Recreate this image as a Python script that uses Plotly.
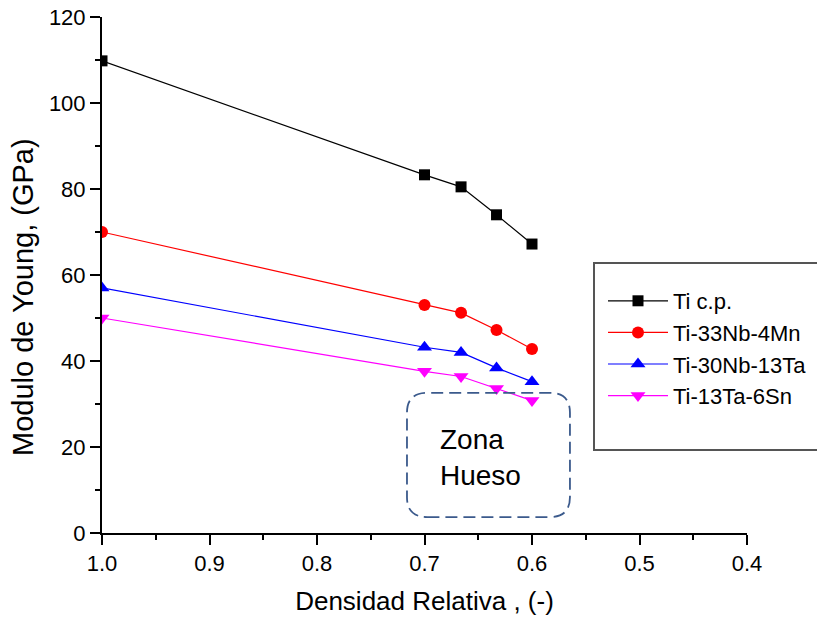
import plotly.graph_objects as go

densidad = [1.0, 0.7, 0.666, 0.633, 0.6]
ti_cp = [109.8, 83.3, 80.5, 74.0, 67.2]
ti_33nb_4mn = [70.0, 53.0, 51.2, 47.2, 42.8]
ti_30nb_13ta = [57.0, 43.2, 42.0, 38.4, 35.2]
ti_13ta_6sn = [50.0, 37.6, 36.4, 33.6, 30.8]

series_names = ["Ti c.p.", "Ti-33Nb-4Mn", "Ti-30Nb-13Ta", "Ti-13Ta-6Sn"]
series_values = [ti_cp, ti_33nb_4mn, ti_30nb_13ta, ti_13ta_6sn]
colors = ["#000000", "#ff0000", "#0000ff", "#ff00ff"]
symbols = ["square", "circle", "triangle-up", "triangle-down"]
msizes = [11, 12, 13, 13]

x_ticks = [1.0, 0.9, 0.8, 0.7, 0.6, 0.5, 0.4]
x_ticktext = ["1.0", "0.9", "0.8", "0.7", "0.6", "0.5", "0.4"]
y_ticks = [0, 20, 40, 60, 80, 100, 120]

FONT = "Liberation Sans, Arial, sans-serif"

fig = go.Figure()
for name, vals, c, s, ms in zip(series_names, series_values, colors, symbols, msizes):
    fig.add_trace(go.Scatter(
        x=densidad, y=vals, name=name, mode="lines+markers",
        line=dict(color=c, width=1.2),
        marker=dict(color=c, symbol=s, size=ms, line=dict(width=0)),
    ))

# Zona Hueso rounded dashed box (data coords)
x0, x1 = 0.7163, 0.5647
y0, y1 = 3.7, 32.6
rx, ry = 0.019, 4.6
path = (f"M {x0 - rx},{y0} L {x1 + rx},{y0} Q {x1},{y0} {x1},{y0 + ry} "
        f"L {x1},{y1 - ry} Q {x1},{y1} {x1 + rx},{y1} "
        f"L {x0 - rx},{y1} Q {x0},{y1} {x0},{y1 - ry} "
        f"L {x0},{y0 + ry} Q {x0},{y0} {x0 - rx},{y0} Z")
fig.add_shape(type="path", path=path, xref="x", yref="y",
              line=dict(color="#3b5a8c", width=1.8, dash="12px,6px"))
fig.add_annotation(x=0.6874, y=17.6, xref="x", yref="y", text="Zona<br>Hueso",
                   showarrow=False, xanchor="left", yanchor="middle", align="left",
                   font=dict(family=FONT, size=28, color="#000000"))

# y-axis title (offset below plot centre as in the original)
fig.add_annotation(x=(23 - 102) / 645, y=(533 - 297) / 516, xref="paper", yref="paper",
                   text="Modulo de Young, (GPa)", textangle=-90, showarrow=False,
                   xanchor="center", yanchor="middle",
                   font=dict(family=FONT, size=29, color="#000000"))

# legend frame
fig.add_shape(type="rect", xref="paper", yref="paper",
              x0=(594 - 102) / 645, x1=(830 - 102) / 645,
              y0=(533 - 450) / 516, y1=(533 - 263) / 516,
              line=dict(color="#555555", width=2), fillcolor="rgba(0,0,0,0)")

fig.update_layout(
    width=817, height=618,
    margin=dict(l=102, r=70, t=17, b=85, autoexpand=False),
    paper_bgcolor="white", plot_bgcolor="white",
    font=dict(family=FONT, color="#000000"),
    showlegend=True,
    legend=dict(x=(603 - 102) / 645, y=(533 - 280) / 516, xanchor="left", yanchor="top",
                bgcolor="rgba(0,0,0,0)", borderwidth=0,
                font=dict(family=FONT, size=22, color="#000000"),
                tracegroupgap=0, itemwidth=60),
    xaxis=dict(
        range=[1.0, 0.4], tickvals=x_ticks, ticktext=x_ticktext, automargin=False,
        showgrid=False, zeroline=False, showline=True, linecolor="black", linewidth=2,
        ticks="outside", ticklen=10, tickwidth=2, tickcolor="black",
        tickfont=dict(family=FONT, size=22, color="black"),
        minor=dict(dtick=0.05, ticks="outside", ticklen=5, tickwidth=2, tickcolor="black"),
        title=dict(text="Densidad Relativa , (-)", font=dict(family=FONT, size=26, color="black"), standoff=16),
    ),
    yaxis=dict(
        range=[0, 120], tickvals=y_ticks, automargin=False,
        showgrid=False, zeroline=False, showline=True, linecolor="black", linewidth=2,
        ticks="outside", ticklen=10, tickwidth=2, tickcolor="black",
        tickfont=dict(family=FONT, size=22, color="black"),
        minor=dict(dtick=10, ticks="outside", ticklen=5, tickwidth=2, tickcolor="black"),
    ),
)

fig.write_html("out.html")
